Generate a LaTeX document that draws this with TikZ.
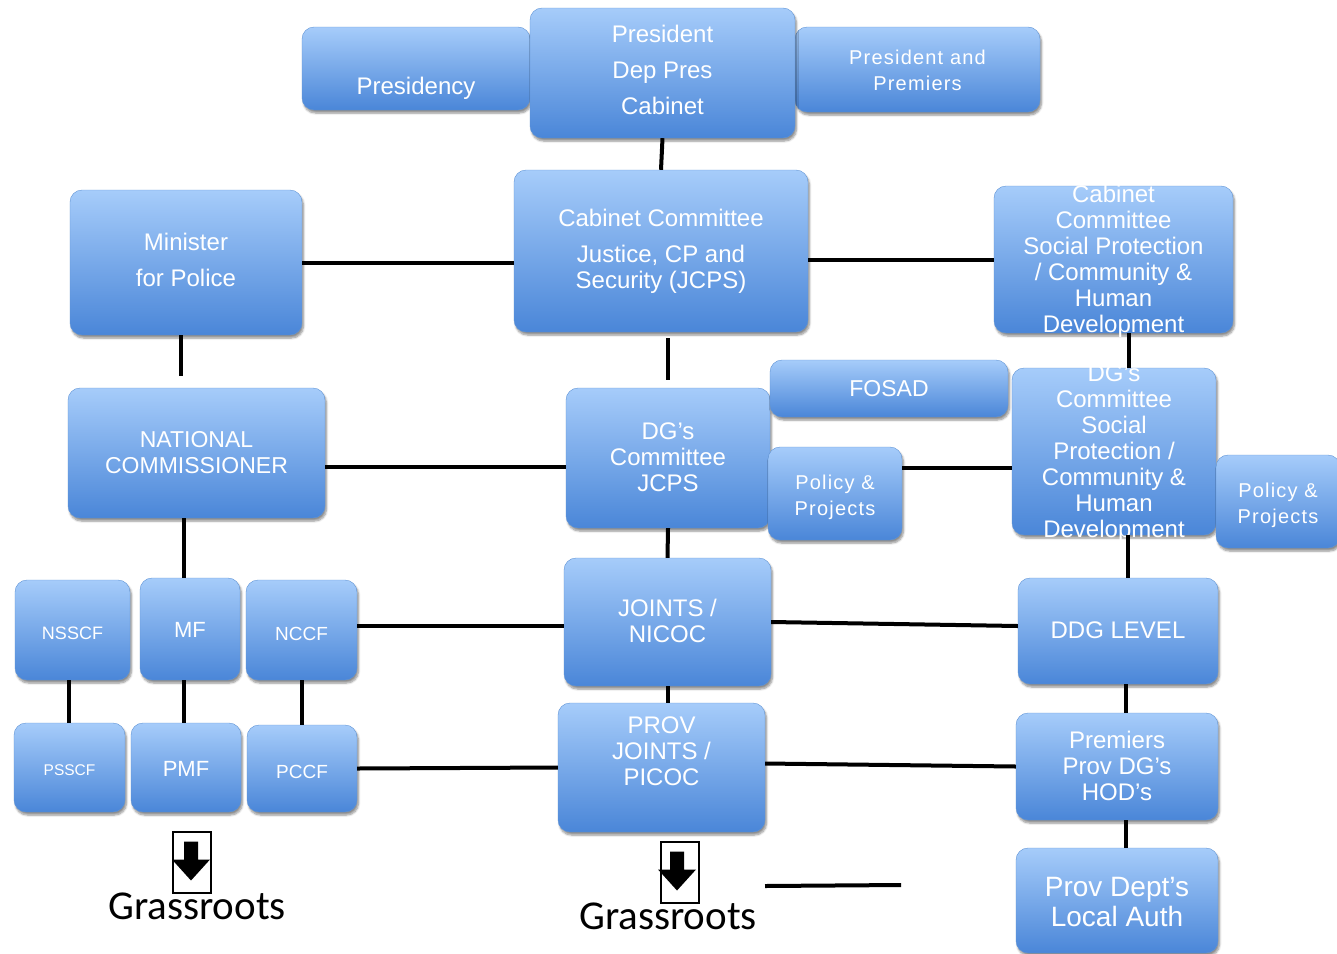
\documentclass[tikz,border=0pt]{standalone}
\usepackage{fontspec}
\setmainfont{Liberation Sans}
\newfontfamily\spaced[LetterSpace=6]{Liberation Sans}
\newfontfamily\calib{Carlito}
\usetikzlibrary{shadows.blur}
\definecolor{boxtop}{RGB}{166,204,250}
\definecolor{boxbot}{RGB}{74,134,216}
\definecolor{boxline}{RGB}{96,148,214}
% text of a box: centred, smashed so that it may run over the edge
\newcommand{\bt}[2][-9]{\raisebox{#1pt}[0pt][0pt]{\begin{tabular}{@{}c@{}}#2\end{tabular}}}
\tikzset{
  orgbox/.style={rounded corners=12pt, draw=boxline, top color=boxtop, bottom color=boxbot,
    text=white, inner sep=0pt, font=\fontsize{24}{26}\selectfont,
    blur shadow={shadow xshift=1.5pt, shadow yshift=-3pt, shadow blur steps=6, shadow opacity=45}},
  link/.style={line width=4pt},
  grass/.style={font=\calib\fontsize{41}{46}\selectfont}
}

\begin{document}
\begin{tikzpicture}[x=1pt,y=-1pt]
      \useasboundingbox (0,0) rectangle (1337,953);
      % top row
        \node[orgbox,minimum width=228,minimum height=83] (presy) at (416,68.5) {\bt[-27]{Presidency}};
        \node[orgbox,minimum width=245,minimum height=85,font=\spaced\fontsize{20}{26}\selectfont] (prempr) at (917.5,69.5) {\bt[-8]{President and\\Premiers}};
        \node[orgbox,minimum width=265,minimum height=130] (pres) at (662.5,73) {\bt[-7]{President\\[10pt]Dep Pres\\[10pt]Cabinet}};
      % cabinet level
        \node[orgbox,minimum width=232,minimum height=145] (minpol) at (186,262.5) {\bt[-7]{Minister\\[10pt]for Police}};
        \node[orgbox,minimum width=294,minimum height=162] (cabjcps) at (661,251) {\bt[-8]{Cabinet Committee\\[10pt]Justice, CP and\\Security (JCPS)}};
        \node[orgbox,minimum width=239,minimum height=147] (cabsoc) at (1113.5,259.5) {\bt{Cabinet\\Committee\\Social Protection\\/ Community \&\\Human\\Development}};
      % DG level
        \node[orgbox,minimum width=257,minimum height=130,font=\fontsize{23}{26}\selectfont] (natcom) at (196.5,453) {\bt{NATIONAL\\COMMISSIONER}};
        \node[orgbox,minimum width=204,minimum height=140] (dgjcps) at (668,458) {\bt{DG’s\\Committee\\JCPS}};
        \node[orgbox,minimum width=238,minimum height=57,font=\fontsize{23}{26}\selectfont] (fosad) at (889,388.5) {\bt{FOSAD}};
        \node[orgbox,minimum width=134,minimum height=93,font=\spaced\fontsize{20}{26}\selectfont] (polpa) at (835,493.5) {\bt[-9]{Policy \&\\Projects}};
        \node[orgbox,minimum width=204,minimum height=167] (dgsoc) at (1114,451.5) {\bt{DG’s\\Committee\\Social\\Protection /\\Community \&\\Human\\Development}};
        \node[orgbox,minimum width=124,minimum height=93,font=\spaced\fontsize{20}{26}\selectfont] (polpb) at (1278,501.5) {\bt[-9]{Policy \&\\Projects}};
      % national structures
        \node[orgbox,minimum width=115,minimum height=100,font=\fontsize{18}{22}\selectfont] (nsscf) at (72.5,630) {\bt[-9]{NSSCF}};
        \node[orgbox,minimum width=100,minimum height=102,font=\fontsize{22}{26}\selectfont] (mf) at (190,629) {\bt[-8]{MF}};
        \node[orgbox,minimum width=111,minimum height=100,font=\fontsize{19}{22}\selectfont] (nccf) at (301.5,630) {\bt[-10]{NCCF}};
        \node[orgbox,minimum width=207,minimum height=128] (joints) at (667.5,622) {\bt{JOINTS /\\NICOC}};
        \node[orgbox,minimum width=200,minimum height=106] (ddg) at (1118,631) {\bt{DDG LEVEL}};
      % provincial structures
        \node[orgbox,minimum width=111,minimum height=89,font=\fontsize{15.5}{20}\selectfont] (psscf) at (69.5,767.5) {\bt[-8]{PSSCF}};
        \node[orgbox,minimum width=110,minimum height=89,font=\fontsize{22}{26}\selectfont] (pmf) at (186,767.5) {\bt[-9]{PMF}};
        \node[orgbox,minimum width=110,minimum height=87,font=\fontsize{19}{22}\selectfont] (pccf) at (302,768.5) {\bt[-10]{PCCF}};
        \node[orgbox,minimum width=207,minimum height=129] (prov) at (661.5,767.5) {\bt[7]{PROV\\JOINTS /\\PICOC}};
        \node[orgbox,minimum width=202,minimum height=107] (prem) at (1117,766.5) {\bt{Premiers\\Prov DG’s\\HOD’s}};
        \node[orgbox,minimum width=202,minimum height=105,font=\fontsize{28}{30}\selectfont] (provdp) at (1117,900.5) {\bt[-11]{Prov Dept’s\\Local Auth}};
      % connectors
        \draw[link] (pres.south) -- (cabjcps.north);
        \draw[link] (minpol.east) -- (minpol.east -| cabjcps.west);
        \draw[link] (cabsoc.west -| cabjcps.east) -- (cabsoc.west);
        \draw[link,shorten >=12pt] ([xshift=-5pt]minpol.south) -- ([xshift=-5pt]minpol.south |- natcom.north);
        \draw[link,shorten <=6pt,shorten >=8pt] (dgjcps.north |- cabjcps.south) -- (dgjcps.north);
        \draw[link] ([xshift=15pt]cabsoc.south) -- ([xshift=15pt]cabsoc.south |- dgsoc.north);
        \draw[link] ([yshift=-14pt]natcom.east) -- ([yshift=-14pt]natcom.east -| dgjcps.west);
        \draw[link] ([yshift=-16pt]dgsoc.west -| polpa.east) -- ([yshift=-16pt]dgsoc.west);
        \draw[link] ([xshift=-6pt]mf.north |- natcom.south) -- ([xshift=-6pt]mf.north);
        \draw[link] (dgjcps.south) -- (joints.north);
        \draw[link] ([xshift=10pt]ddg.north |- dgsoc.south) -- ([xshift=10pt]ddg.north);
        \draw[link] ([yshift=4pt]nccf.east) -- ([yshift=4pt]nccf.east -| joints.west);
        \draw[link] (joints.east) -- ([yshift=5pt]ddg.west);
        \draw[link] ([xshift=-4pt]nsscf.south) -- ([xshift=-4pt]nsscf.south |- psscf.north);
        \draw[link] ([xshift=-6pt]mf.south) -- ([xshift=-6pt]mf.south |- pmf.north);
        \draw[link] (nccf.south) -- (nccf.south |- pccf.north);
        \draw[link] (joints.south) -- (joints.south |- prov.north);
        \draw[link] (pccf.east) -- (prov.west);
        \draw[link] ([yshift=4pt]prov.east) -- (prem.west);
        \draw[link] ([xshift=8pt]ddg.south) -- ([xshift=8pt]ddg.south |- prem.north);
        \draw[link] ([xshift=9pt]prem.south) -- ([xshift=9pt]prem.south |- provdp.north);
        \coordinate (lnA) at (765,886);
        \coordinate (lnB) at (901,885);
        \draw[link] (lnA) -- (lnB);
      % grassroots marks
        \foreach \cx/\cy/\ax [count=\i] in {192/862.5/191, 680/872.5/677}{
          \node[draw,line width=1.5pt,minimum width=38,minimum height=61,inner sep=0pt] (dn\i) at (\cx,\cy) {};
          \fill (\ax-7,\cy-21) -- (\ax+7,\cy-21) -- (\ax+7,\cy-3) -- (\ax+19,\cy-3)
                -- (\ax,\cy+18) -- (\ax-19,\cy-3) -- (\ax-7,\cy-3) -- cycle;
        }
        \node[grass] (grA) at (197,906) {Grassroots};
        \node[grass] (grB) at (668,916) {Grassroots};
      \end{tikzpicture}
\end{document}
